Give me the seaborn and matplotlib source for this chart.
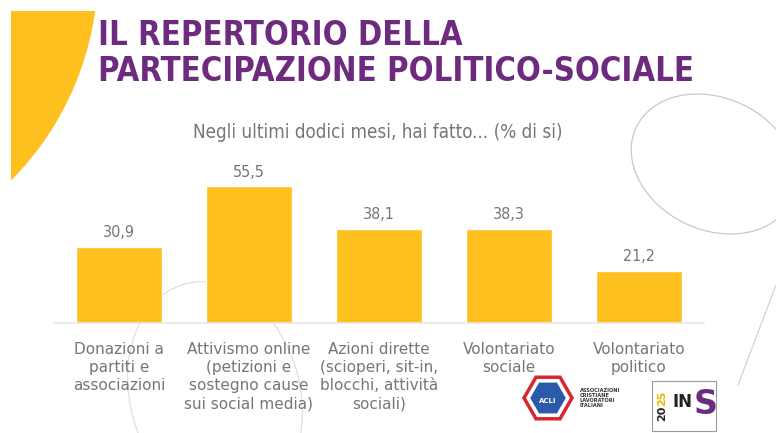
import numpy as np
import matplotlib
matplotlib.use("Agg")
import matplotlib.pyplot as plt
from matplotlib import font_manager
from matplotlib.patches import Circle, Ellipse, Rectangle, RegularPolygon
import seaborn as sns

categories = [
    "Donazioni a\npartiti e\nassociazioni",
    "Attivismo online\n(petizioni e\nsostegno cause\nsui social media)",
    "Azioni dirette\n(scioperi, sit-in,\nblocchi, attività\nsociali)",
    "Volontariato\nsociale",
    "Volontariato\npolitico",
]
values = [30.9, 55.5, 38.1, 38.3, 21.2]
value_labels = ["30,9", "55,5", "38,1", "38,3", "21,2"]

title = "IL REPERTORIO DELLA\nPARTECIPAZIONE POLITICO-SOCIALE"
subtitle = "Negli ultimi dodici mesi, hai fatto... (% di si)"

YELLOW = "#FDC01F"
PURPLE = "#6E2A7E"
GREY = "#767676"

sns.set_theme(style="white")
names = {f.name for f in font_manager.fontManager.ttflist}
if "Liberation Sans Narrow" in names:
    narrow = dict(family=["Liberation Sans Narrow", "DejaVu Sans"])
else:
    narrow = dict(family=["DejaVu Sans"], fontstretch="condensed")
plt.rcParams["font.family"] = narrow["family"]

W, H = 776, 433
fig = plt.figure(figsize=(W / 100, H / 100), dpi=100)
fig.patch.set_facecolor("white")

# background layer in pixel coordinates
bg = fig.add_axes([0, 0, 1, 1], zorder=0)
bg.set_xlim(0, W)
bg.set_ylim(H, 0)
bg.axis("off")
clip = Rectangle((11, 11), W, H, transform=bg.transData)
sun = Circle((-200, -30), 298, color=YELLOW, lw=0)
bg.add_patch(sun)
sun.set_clip_path(clip)
ring = Ellipse((714, 164), 172, 132, angle=25, fill=False, ec="#c9c9c9", lw=0.9)
bg.add_patch(ring)
bg.plot([776, 738], [285, 385], color="#cfcfcf", lw=0.8)
arc = Ellipse((215, 395), 170, 230, angle=-15, fill=False, ec="#dddddd", lw=0.8)
bg.add_patch(arc)

# logos (rough)
bg.add_patch(RegularPolygon((548, 398), 6, radius=24, orientation=np.pi / 6,
                            fc="white", ec="#d8262e", lw=2.5))
bg.add_patch(RegularPolygon((548, 398), 6, radius=17, orientation=np.pi / 6,
                            fc="#2a5aa8", ec="#2a5aa8", lw=1))
bg.text(548, 401, "ACLI", color="white", fontsize=5, ha="center", va="center",
        fontweight="bold")
bg.text(580, 398, "ASSOCIAZIONI\nCRISTIANE\nLAVORATORI\nITALIANI", fontsize=3.6,
        color="#333333", ha="left", va="center", linespacing=1.0, fontweight="bold")
bg.add_patch(Rectangle((652, 381), 64, 50, fill=False, ec="#9a9a9a", lw=0.8))
bg.text(662, 406, "20", rotation=90, fontsize=8, fontweight="bold", color="#222222",
        ha="center", va="top")
bg.text(662, 406, "25", rotation=90, fontsize=8, fontweight="bold", color="#f0b400",
        ha="center", va="bottom")
bg.text(672, 402, "IN", fontsize=12, fontweight="bold", color="#222222",
        ha="left", va="center")
bg.text(694, 404, "S", fontsize=24, fontweight="bold", color=PURPLE,
        ha="left", va="center")

# title and subtitle
fig.text(98 / W, 1 - 19 / H, title, color=PURPLE, fontsize=23.5, fontweight="bold",
         ha="left", va="top", linespacing=1.12, **narrow)
fig.text(378 / W, 1 - 133 / H, subtitle, color=GREY, fontsize=13.5,
         ha="center", va="center", **narrow)

# bar chart
ax = fig.add_axes([54 / W, 110 / H, 650 / W, 153 / H], zorder=1)
ax.patch.set_alpha(0)
sns.barplot(x=categories, y=values, color=YELLOW, width=0.66, saturation=1,
            ax=ax)
ax.set_ylim(0, 153 / 2.46)
ax.set_xlim(-0.5, 4.5)
ax.bar_label(ax.containers[0], labels=value_labels, padding=5, color=GREY,
             fontsize=11.5, **narrow)
ax.set_yticks([])
ax.set_ylabel("")
for s in ["top", "right", "left"]:
    ax.spines[s].set_visible(False)
ax.spines["bottom"].set_color("#e6e6e6")
ax.spines["bottom"].set_linewidth(1.2)
ax.tick_params(axis="x", length=0, pad=14)
for lbl in ax.get_xticklabels():
    lbl.set_color(GREY)
    lbl.set_fontsize(11)
    lbl.set_linespacing(1.25)
    lbl.set_va("top")

fig.savefig("out.png", dpi=100)
